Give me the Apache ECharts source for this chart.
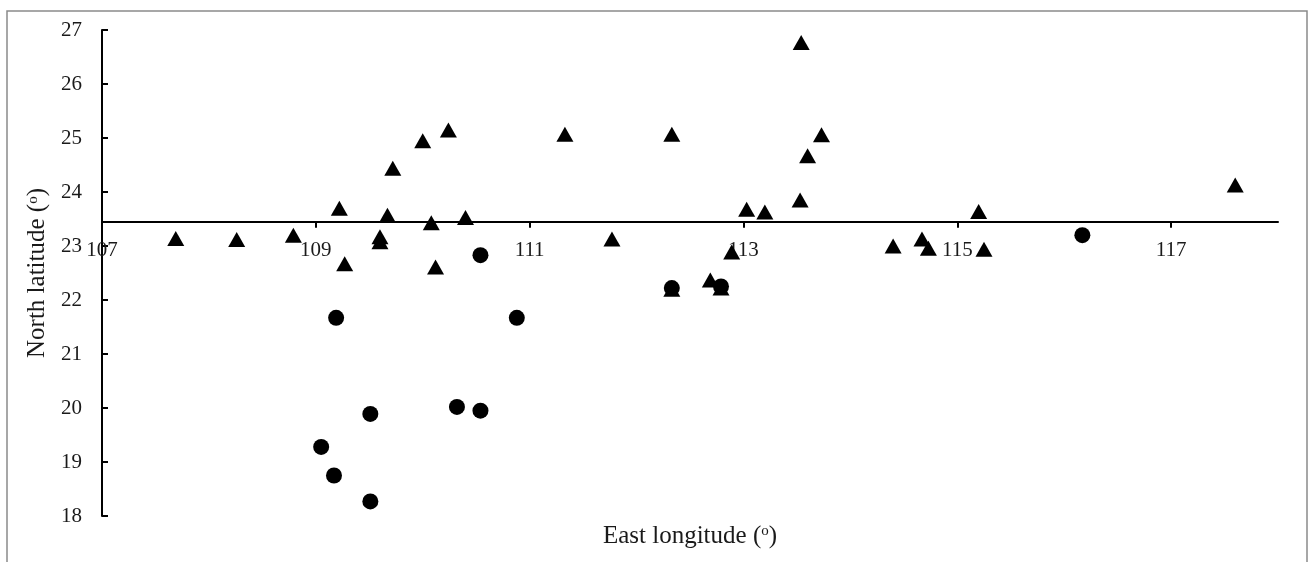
<!DOCTYPE html>
<html>
<head>
<meta charset="utf-8">
<script src="https://cdn.jsdelivr.net/npm/echarts@6/dist/echarts.min.js"></script>
<style>
html,body{margin:0;padding:0;background:#fff;}
#chart{width:1310px;height:562px;}
</style>
</head>
<body>
<div id="chart"></div>
<script>
// ---- data ----
const triangleLon = [107.69,108.26,108.79,109.22,109.27,109.60,109.60,109.67,109.72,110.00,110.24,110.08,110.12,110.40,111.33,111.77,112.33,112.33,112.69,112.79,112.89,113.03,113.20,113.53,113.54,113.60,113.73,114.40,114.67,114.73,115.20,115.25,117.60];
const triangleLat = [23.14,23.12,23.20,23.70,22.67,23.17,23.08,23.57,24.44,24.95,25.15,23.43,22.61,23.53,25.07,23.13,25.07,22.20,22.37,22.22,22.89,23.68,23.63,23.85,26.77,24.67,25.06,23.00,23.13,22.96,23.64,22.94,24.13];
const circleLon = [109.05,109.17,109.19,109.51,109.51,110.32,110.54,110.54,110.88,112.33,112.79,116.17];
const circleLat = [19.28,18.75,21.67,19.89,18.27,20.02,19.95,22.83,21.67,22.22,22.25,23.20];
const xTicks = [107,109,111,113,115,117];
const yTicks = [18,19,20,21,22,23,24,25,26,27];
const xMin = 107, xMax = 118, yMin = 18, yMax = 27;
const tropicLat = 23.45; // latitude at which the horizontal axis crosses
const xName = 'East longitude ({s|o})';
const yName = 'North latitude ({s|o})';

// ---- layout ----
const W = 1310, H = 562;
const grid = {left: 102, right: 32, top: 30, bottom: 46};
const gridH = H - grid.top - grid.bottom;
const crossOffset = -(tropicLat - yMin) / (yMax - yMin) * gridH;
const FONT = '"Liberation Serif", "DejaVu Serif", serif';
const ink = '#000';
const textInk = '#1a1a1a';

const pairs = (a, b) => a.map((v, i) => [v, b[i]]);

const chart = echarts.init(document.getElementById('chart'), null, {renderer: 'canvas'});
chart.setOption({
  backgroundColor: '#fff',
  animation: false,
  grid: grid,
  graphic: [{
    type: 'rect', z: -10,
    shape: {x: 7, y: 11, width: 1300, height: 570},
    style: {fill: 'none', stroke: '#8a8a8a', lineWidth: 1.5}
  }],
  xAxis: [{
    type: 'value', min: xMin, max: xMax, position: 'bottom', offset: crossOffset,
    axisLine: {show: true, onZero: false, lineStyle: {color: ink, width: 2}},
    axisTick: {show: true, inside: false, length: 6, lineStyle: {color: ink, width: 2}, customValues: xTicks.slice(1)},
    axisLabel: {show: true, margin: 18, fontFamily: FONT, fontSize: 21, color: textInk, customValues: xTicks},
    splitLine: {show: false}
  }, {
    type: 'value', min: xMin, max: xMax, position: 'bottom',
    axisLine: {show: false}, axisTick: {show: false}, axisLabel: {show: false}, splitLine: {show: false},
    name: xName, nameLocation: 'middle', nameGap: 8,
    nameTextStyle: {fontFamily: FONT, fontSize: 25, color: textInk, verticalAlign: 'top',
      rich: {s: {fontFamily: FONT, fontSize: 15, color: textInk, verticalAlign: 'top', lineHeight: 15}}}
  }],
  yAxis: {
    type: 'value', min: yMin, max: yMax, interval: 1, position: 'left',
    axisLine: {show: true, onZero: false, lineStyle: {color: ink, width: 2}},
    axisTick: {show: true, inside: true, length: 6, lineStyle: {color: ink, width: 2}},
    axisLabel: {show: true, margin: 20, fontFamily: FONT, fontSize: 21, color: textInk, customValues: yTicks},
    splitLine: {show: false},
    name: yName, nameLocation: 'middle', nameGap: 46, nameRotate: 90,
    nameTextStyle: {fontFamily: FONT, fontSize: 25, color: textInk,
      rich: {s: {fontFamily: FONT, fontSize: 15, color: textInk, verticalAlign: 'top', lineHeight: 15}}}
  },
  series: [{
    type: 'scatter', xAxisIndex: 0, symbol: 'triangle', symbolSize: [17, 15],
    itemStyle: {color: '#000', opacity: 1}, data: pairs(triangleLon, triangleLat), z: 2
  }, {
    type: 'scatter', xAxisIndex: 0, symbol: 'circle', symbolSize: 16,
    itemStyle: {color: '#000', opacity: 1}, data: pairs(circleLon, circleLat), z: 3
  }]
});
</script>
</body>
</html>
